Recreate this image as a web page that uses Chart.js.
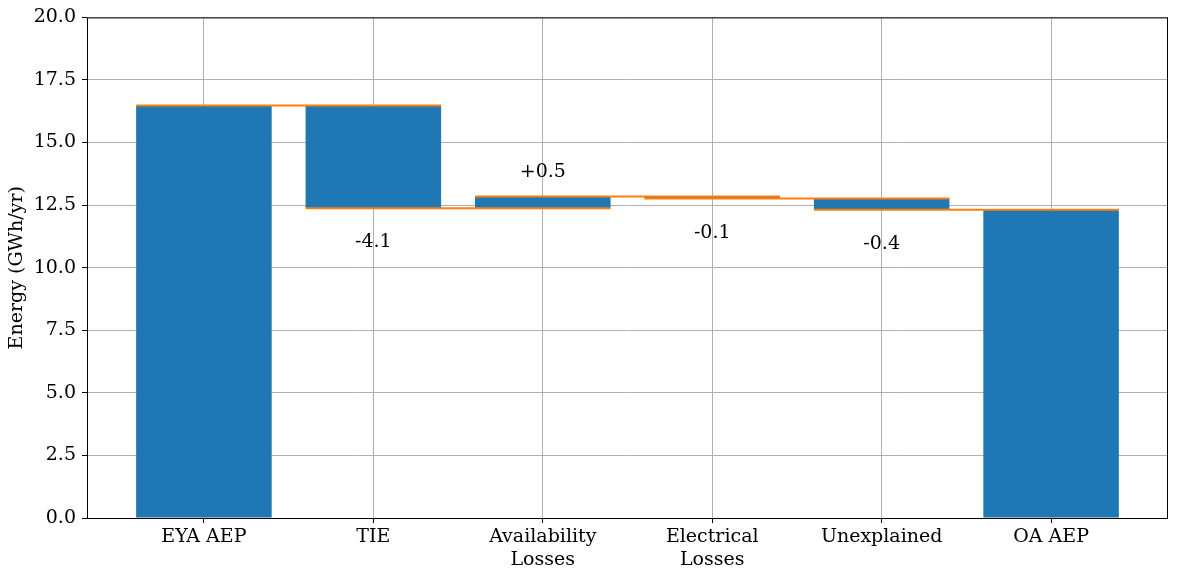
<!DOCTYPE html>
<html>
<head>
<meta charset="utf-8">
<script src="https://cdn.jsdelivr.net/npm/chart.js@4"></script>
<style>
  html, body { margin: 0; padding: 0; background: #fff; }
  #wrap { width: 1178px; height: 577px; }
</style>
</head>
<body>
<div id="wrap"><canvas id="myChart" width="1178" height="577"></canvas></div>
<script>
// waterfall data
const categories = ['EYA AEP', 'TIE', ['Availability', 'Losses'], ['Electrical', 'Losses'], 'Unexplained', 'OA AEP'];
const startValue = 16.48;
const changes = [-4.10, 0.46, -0.08, -0.44];
const changeLabels = ['-4.1', '+0.5', '-0.1', '-0.4'];
const yTicks = [0, 2.5, 5, 7.5, 10, 12.5, 15, 17.5, 20];

// running totals
let cum = [startValue];
changes.forEach(c => cum.push(cum[cum.length - 1] + c));
const endValue = cum[cum.length - 1];

let barData = [{x: 0, y: [0, startValue]}];
changes.forEach((c, i) => {
    barData.push({x: i + 1, y: [Math.min(cum[i], cum[i + 1]), Math.max(cum[i], cum[i + 1])]});
});
barData.push({x: categories.length - 1, y: [0, endValue]});

let datasets = [];
cum.forEach((v, i) => {
    datasets.push({
        type: 'line',
        data: [{x: i - 0.4, y: v}, {x: i + 1.4, y: v}],
        borderColor: '#ff7f0e',
        borderWidth: 2,
        pointRadius: 0,
        order: 0
    });
});
datasets.push({
    type: 'bar',
    data: barData,
    backgroundColor: '#1f77b4',
    categoryPercentage: 1.0,
    barPercentage: 0.8,
    order: 1
});

const font = {family: "'DejaVu Serif', serif", size: 19};

const frame = {
    id: 'frame',
    afterDatasetsDraw(chart) {
        const ctx = chart.ctx;
        const a = chart.chartArea;
        const ys = chart.scales.y;
        ctx.save();
        // change labels
        ctx.fillStyle = '#000';
        ctx.font = "19px 'DejaVu Serif'";
        ctx.textAlign = 'center';
        ctx.textBaseline = 'middle';
        changes.forEach((c, i) => {
            const px = chart.scales.x.getPixelForValue(i + 1);
            const lo = Math.min(cum[i], cum[i + 1]);
            const hi = Math.max(cum[i], cum[i + 1]);
            const py = c < 0 ? ys.getPixelForValue(lo) + 34 : ys.getPixelForValue(hi) - 25;
            ctx.fillText(changeLabels[i], px, py);
        });
        // axes box
        ctx.strokeStyle = '#000';
        ctx.lineWidth = 1;
        ctx.strokeRect(a.left + 0.5, a.top + 0.5, a.right - a.left - 1, a.bottom - a.top);
        ctx.restore();
    }
};

new Chart(document.getElementById('myChart'), {
    data: {datasets: datasets},
    options: {
        responsive: false,
        animation: false,
        layout: {padding: {top: 16, right: 10, left: 0, bottom: 0}},
        plugins: {legend: {display: false}, tooltip: {enabled: false}},
        scales: {
            x: {
                type: 'linear',
                min: -0.69,
                max: 5.69,
                offset: false,
                afterBuildTicks: s => { s.ticks = categories.map((c, i) => ({value: i})); },
                afterFit: s => { s.height = 59; },
                ticks: {
                    callback: (v) => categories[v],
                    color: '#000',
                    font: font,
                    padding: 3,
                    maxRotation: 0
                },
                grid: {color: '#b0b0b0', tickColor: '#000', tickLength: 5, offset: false},
                border: {display: false}
            },
            y: {
                min: 0,
                max: 20,
                afterBuildTicks: s => { s.ticks = yTicks.map(v => ({value: v})); },
                afterFit: s => { s.width = 87; },
                title: {display: true, text: 'Energy (GWh/yr)', color: '#000', font: font, padding: {top: 6, bottom: 0}},
                ticks: {
                    callback: v => v.toFixed(1),
                    color: '#000',
                    font: font,
                    padding: 6
                },
                grid: {color: '#b0b0b0', tickColor: '#000', tickLength: 5},
                border: {display: false}
            }
        }
    },
    plugins: [frame]
});
</script>
</body>
</html>
